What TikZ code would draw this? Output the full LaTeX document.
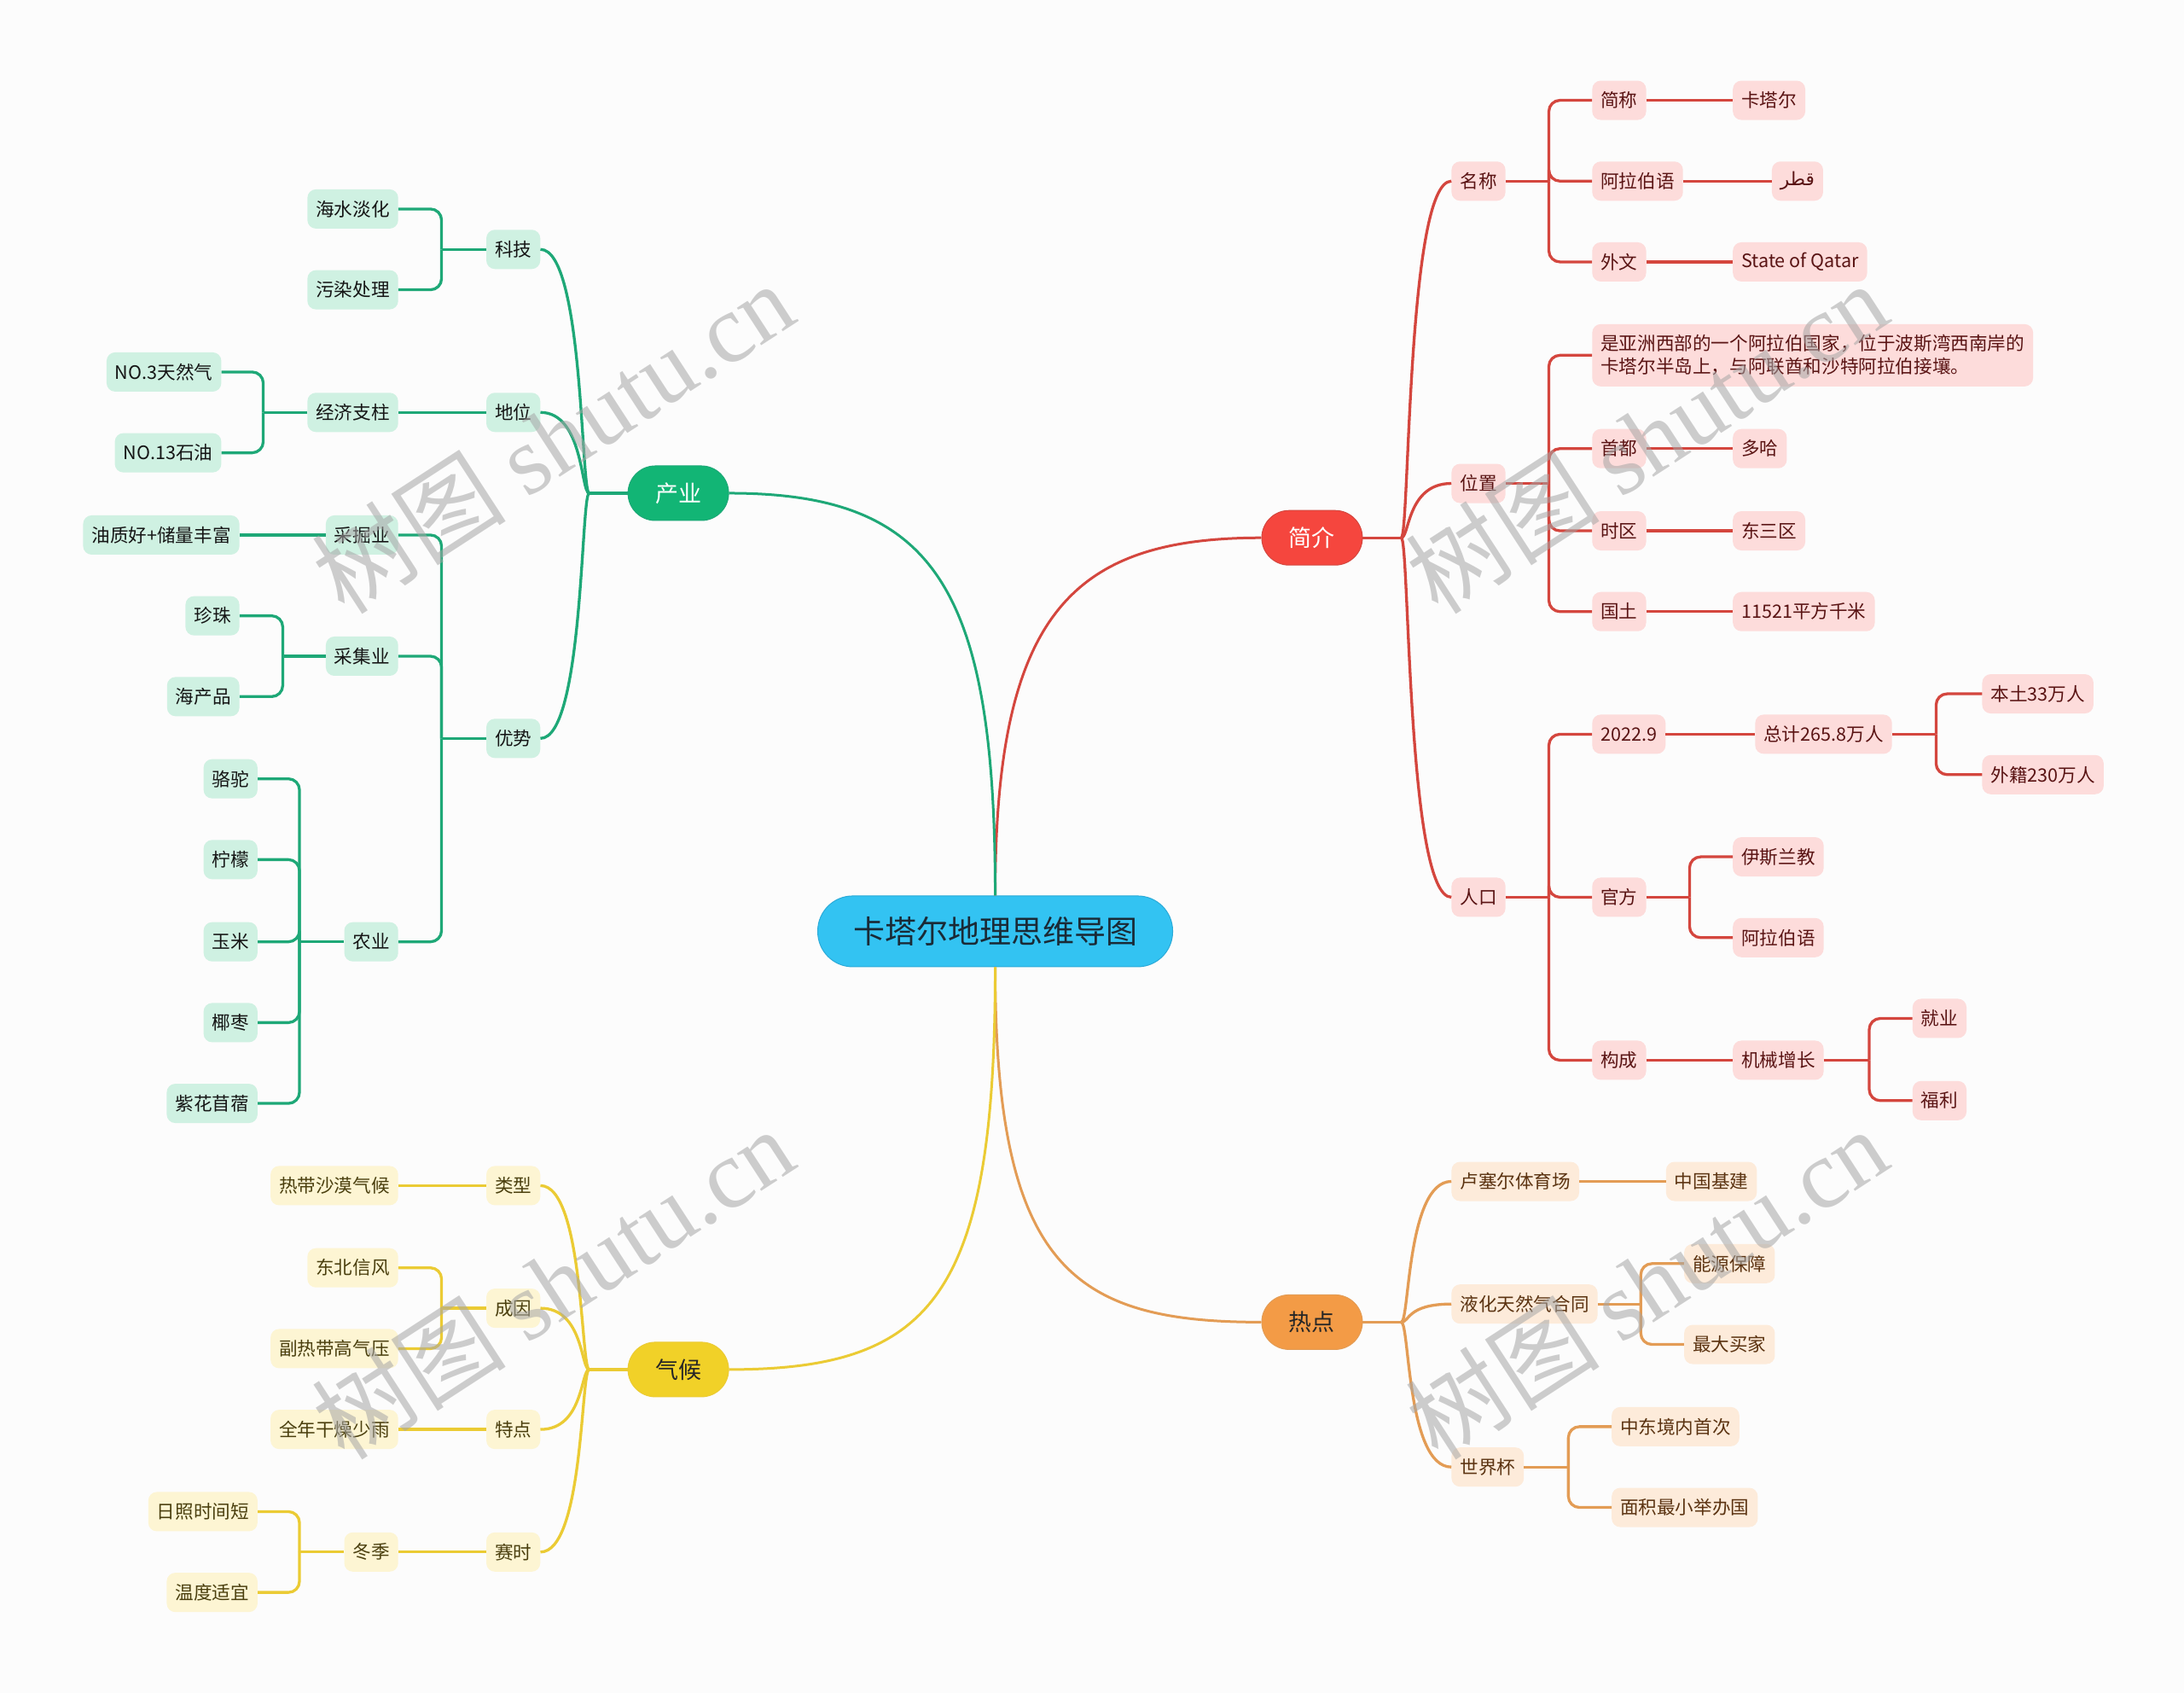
\documentclass[tikz,border=0pt]{standalone}
\usepackage{fontspec}
\setmainfont{Noto Sans CJK SC}
\newfontfamily\arabicfont[Script=Arabic]{DejaVu Sans}
\newfontfamily\wmserif{Liberation Serif}
\TeXXeTstate=1
\definecolor{bg}{HTML}{FCFCFC}
\definecolor{cfill}{HTML}{33C3F2}
\definecolor{cdraw}{HTML}{2AAAD8}
\definecolor{ctext}{HTML}{1A2A36}
\definecolor{rmain}{HTML}{F5463E}
\definecolor{rline}{HTML}{D4463E}
\definecolor{rfill}{HTML}{FDDCDB}
\definecolor{rtext}{HTML}{5A1414}
\definecolor{gmain}{HTML}{12B575}
\definecolor{gline}{HTML}{1EA877}
\definecolor{gfill}{HTML}{CFF1E2}
\definecolor{gtext}{HTML}{151515}
\definecolor{omain}{HTML}{F39B46}
\definecolor{oline}{HTML}{E39C55}
\definecolor{ofill}{HTML}{FDEBDA}
\definecolor{otext}{HTML}{5B3311}
\definecolor{ymain}{HTML}{F1D128}
\definecolor{yline}{HTML}{EBCB34}
\definecolor{yfill}{HTML}{FDF5D3}
\definecolor{ytext}{HTML}{4A3F0E}
\tikzset{
  base/.style={rounded corners=10pt, minimum height=46pt, inner xsep=10pt, inner ysep=0pt,
    font=\fontsize{21.6}{26}\selectfont},
  rbox/.style={base, fill=rfill, text=rtext},
  gbox/.style={base, fill=gfill, text=gtext},
  obox/.style={base, fill=ofill, text=otext},
  ybox/.style={base, fill=yfill, text=ytext},
  mainbox/.style={rounded corners=32pt, minimum height=64pt, minimum width=118pt, inner sep=0pt,
    font=\fontsize{27}{32}\selectfont, line width=1pt},
  rl/.style={draw=rline, line width=3.3pt},
  gl/.style={draw=gline, line width=3.3pt},
  ol/.style={draw=oline, line width=3.3pt},
  yl/.style={draw=yline, line width=3.3pt},
  rc/.style={rounded corners=13pt},
  wm/.style={text=gray!70, opacity=0.55, rotate=33, font=\fontsize{114}{120}\selectfont}
}
\begin{document}
\begin{tikzpicture}[x=1.6327pt, y=-1.6327pt]
\useasboundingbox (0,0) rectangle (1568,1215);
\fill[bg] (0,0) rectangle (1568,1215);

% ---------- main nodes ----------
\node[mainbox, minimum width=416pt, minimum height=83pt, rounded corners=41pt, fill=cfill, draw=cdraw, text=ctext,
      font=\fontsize{37}{42}\selectfont] (root) at (714.5,668.5) {卡塔尔地理思维导图};
\node[mainbox, fill=rmain, draw=rline, text=white] (jj) at (942,386) {简介};
\node[mainbox, fill=gmain, draw=gline, text=white] (cy) at (487,354) {产业};
\node[mainbox, fill=omain, draw=oline, text=black!85] (rd) at (942,949) {热点};
\node[mainbox, fill=ymain, draw=yline, text=black!85] (qh) at (487,983) {气候};

% ---------- red branch ----------
\node[rbox, anchor=west] (mc) at (1042,130) {名称};
\node[rbox, anchor=west] (wz) at (1042,347) {位置};
\node[rbox, anchor=west] (rk) at (1042,644) {人口};

\node[rbox, anchor=west] (jc) at (1143,72) {简称};
\node[rbox, anchor=west] (alb) at (1143,130) {阿拉伯语};
\node[rbox, anchor=west] (ww) at (1143,188) {外文};
\node[rbox, anchor=west] (ktr) at (1244,72) {卡塔尔};
\node[rbox, anchor=west] (ar) at (1272,130) {\arabicfont\beginR قطر\endR};
\node[rbox, anchor=west] (soq) at (1244,188) {State of Qatar};

\node[rbox, anchor=west, minimum height=73pt, align=left,
      font=\fontsize{21.6}{27}\selectfont] (desc) at (1143,255)
  {是亚洲西部的一个阿拉伯国家，位于波斯湾西南岸的\\卡塔尔半岛上，与阿联酋和沙特阿拉伯接壤。};
\node[rbox, anchor=west] (sd) at (1143,322) {首都};
\node[rbox, anchor=west] (sq) at (1143,381) {时区};
\node[rbox, anchor=west] (gt) at (1143,439) {国土};
\node[rbox, anchor=west] (dh) at (1244,322) {多哈};
\node[rbox, anchor=west] (dsq) at (1244,381) {东三区};
\node[rbox, anchor=west] (mj) at (1244,439) {11521平方千米};

\node[rbox, anchor=west] (y22) at (1143,527) {2022.9};
\node[rbox, anchor=west] (gf) at (1143,644) {官方};
\node[rbox, anchor=west] (gc) at (1143,761) {构成};
\node[rbox, anchor=west] (zj) at (1260,527) {总计265.8万人};
\node[rbox, anchor=west] (bt) at (1423,498) {本土33万人};
\node[rbox, anchor=west] (wj) at (1423,556) {外籍230万人};
\node[rbox, anchor=west] (ysl) at (1244,615) {伊斯兰教};
\node[rbox, anchor=west] (alb2) at (1244,673) {阿拉伯语};
\node[rbox, anchor=west] (jx) at (1244,761) {机械增长};
\node[rbox, anchor=west] (jy) at (1373,731) {就业};
\node[rbox, anchor=west] (fl) at (1373,790) {福利};

% ---------- orange branch ----------
\node[obox, anchor=west] (lse) at (1042,848) {卢塞尔体育场};
\node[obox, anchor=west] (yh) at (1042,936) {液化天然气合同};
\node[obox, anchor=west] (sjb) at (1042,1053) {世界杯};
\node[obox, anchor=west] (zgjj) at (1196,848) {中国基建};
\node[obox, anchor=west] (nybz) at (1209,907) {能源保障};
\node[obox, anchor=west] (zdmj) at (1209,965) {最大买家};
\node[obox, anchor=west] (zdjn) at (1157,1024) {中东境内首次};
\node[obox, anchor=west] (mjzx) at (1157,1082) {面积最小举办国};

% ---------- green branch ----------
\node[gbox, anchor=east] (kj) at (388,179) {科技};
\node[gbox, anchor=east] (dw) at (388,296) {地位};
\node[gbox, anchor=east] (ys) at (388,530) {优势};
\node[gbox, anchor=east] (hsdh) at (286,150) {海水淡化};
\node[gbox, anchor=east] (wrcl) at (286,208) {污染处理};
\node[gbox, anchor=east] (jjzz) at (286,296) {经济支柱};
\node[gbox, anchor=east] (no3) at (159,267) {NO.3天然气};
\node[gbox, anchor=east] (no13) at (159,325) {NO.13石油};
\node[gbox, anchor=east] (cjy) at (286,384) {采掘业};
\node[gbox, anchor=east] (cjy2) at (286,471) {采集业};
\node[gbox, anchor=east] (ny) at (286,676) {农业};
\node[gbox, anchor=east] (yz) at (172,384) {油质好+储量丰富};
\node[gbox, anchor=east] (zz) at (172,442) {珍珠};
\node[gbox, anchor=east] (hcp) at (172,500) {海产品};
\node[gbox, anchor=east] (lt) at (185,559) {骆驼};
\node[gbox, anchor=east] (nm) at (185,617) {柠檬};
\node[gbox, anchor=east] (ym) at (185,676) {玉米};
\node[gbox, anchor=east] (yzao) at (185,734) {椰枣};
\node[gbox, anchor=east] (zhmx) at (185,792) {紫花苜蓿};

% ---------- yellow branch ----------
\node[ybox, anchor=east] (lx) at (388,851) {类型};
\node[ybox, anchor=east] (cyin) at (388,939) {成因};
\node[ybox, anchor=east] (td) at (388,1026) {特点};
\node[ybox, anchor=east] (ss) at (388,1114) {赛时};
\node[ybox, anchor=east] (rdsm) at (286,851) {热带沙漠气候};
\node[ybox, anchor=east] (dbxf) at (286,910) {东北信风};
\node[ybox, anchor=east] (frd) at (286,968) {副热带高气压};
\node[ybox, anchor=east] (qngz) at (286,1026) {全年干燥少雨};
\node[ybox, anchor=east] (dj) at (286,1114) {冬季};
\node[ybox, anchor=east] (rz) at (185,1085) {日照时间短};
\node[ybox, anchor=east] (wd) at (185,1143) {温度适宜};

% ---------- connectors ----------
% main curves
\draw[rl, line width=3pt] (root.north) .. controls (714.5,440) and (770,386) .. (jj.west);
\draw[gl, line width=3pt] (root.north) .. controls (714.5,420) and (670,354) .. (cy.east);
\draw[ol, line width=3pt] (root.south) .. controls (714.5,910) and (770,949) .. (rd.west);
\draw[yl, line width=3pt] (root.south) .. controls (714.5,930) and (670,983) .. (qh.east);

% red level 1 -> 2
\coordinate (jjs) at (1006,386);
\draw[rl] (jj.east) -- (jjs);
\draw[rl] (jjs) .. controls (1012,386) and (1010,130) .. (mc.west);
\draw[rl] (jjs) .. controls (1012,386) and (1010,347) .. (wz.west);
\draw[rl] (jjs) .. controls (1012,386) and (1010,644) .. (rk.west);

% red level 2 -> 3
\coordinate (mcs) at (1112,130);
\draw[rl] (mc.east) -- (mcs);
\draw[rl,rc] (mcs) |- (jc.west);
\draw[rl,rc] (mcs) |- (alb.west);
\draw[rl,rc] (mcs) |- (ww.west);
\draw[rl] (jc.east) -- (ktr.west);
\draw[rl] (alb.east) -- (ar.west);
\draw[rl] (ww.east) -- (soq.west);

\coordinate (wzs) at (1112,347);
\draw[rl] (wz.east) -- (wzs);
\draw[rl,rc] (wzs) |- (desc.west);
\draw[rl,rc] (wzs) |- (sd.west);
\draw[rl,rc] (wzs) |- (sq.west);
\draw[rl,rc] (wzs) |- (gt.west);
\draw[rl] (sd.east) -- (dh.west);
\draw[rl] (sq.east) -- (dsq.west);
\draw[rl] (gt.east) -- (mj.west);

\coordinate (rks) at (1112,644);
\draw[rl] (rk.east) -- (rks);
\draw[rl,rc] (rks) |- (y22.west);
\draw[rl,rc] (rks) |- (gf.west);
\draw[rl,rc] (rks) |- (gc.west);
\draw[rl] (y22.east) -- (zj.west);
\coordinate (zjs) at (1390,527);
\draw[rl] (zj.east) -- (zjs);
\draw[rl,rc] (zjs) |- (bt.west);
\draw[rl,rc] (zjs) |- (wj.west);
\coordinate (gfs) at (1213,644);
\draw[rl] (gf.east) -- (gfs);
\draw[rl,rc] (gfs) |- (ysl.west);
\draw[rl,rc] (gfs) |- (alb2.west);
\draw[rl] (gc.east) -- (jx.west);
\coordinate (jxs) at (1342,761);
\draw[rl] (jx.east) -- (jxs);
\draw[rl,rc] (jxs) |- (jy.west);
\draw[rl,rc] (jxs) |- (fl.west);

% orange
\coordinate (rds) at (1006,949);
\draw[ol] (rd.east) -- (rds);
\draw[ol] (rds) .. controls (1012,949) and (1010,848) .. (lse.west);
\draw[ol] (rds) .. controls (1012,949) and (1010,936) .. (yh.west);
\draw[ol] (rds) .. controls (1012,949) and (1010,1053) .. (sjb.west);
\draw[ol] (lse.east) -- (zgjj.west);
\coordinate (yhs) at (1178,936);
\draw[ol] (yh.east) -- (yhs);
\draw[ol,rc] (yhs) |- (nybz.west);
\draw[ol,rc] (yhs) |- (zdmj.west);
\coordinate (sjbs) at (1126,1053);
\draw[ol] (sjb.east) -- (sjbs);
\draw[ol,rc] (sjbs) |- (zdjn.west);
\draw[ol,rc] (sjbs) |- (mjzx.west);

% green
\coordinate (cys) at (423,354);
\draw[gl] (cy.west) -- (cys);
\draw[gl] (cys) .. controls (417,354) and (419,179) .. (kj.east);
\draw[gl] (cys) .. controls (417,354) and (419,296) .. (dw.east);
\draw[gl] (cys) .. controls (417,354) and (419,530) .. (ys.east);
\coordinate (kjs) at (317,179);
\draw[gl] (kj.west) -- (kjs);
\draw[gl,rc] (kjs) |- (hsdh.east);
\draw[gl,rc] (kjs) |- (wrcl.east);
\draw[gl] (dw.west) -- (jjzz.east);
\coordinate (jjzzs) at (189,296);
\draw[gl] (jjzz.west) -- (jjzzs);
\draw[gl,rc] (jjzzs) |- (no3.east);
\draw[gl,rc] (jjzzs) |- (no13.east);
\coordinate (yss) at (317,530);
\draw[gl] (ys.west) -- (yss);
\draw[gl,rc] (yss) |- (cjy.east);
\draw[gl,rc] (yss) |- (cjy2.east);
\draw[gl,rc] (yss) |- (ny.east);
\draw[gl] (cjy.west) -- (yz.east);
\coordinate (cjy2s) at (203,471);
\draw[gl] (cjy2.west) -- (cjy2s);
\draw[gl,rc] (cjy2s) |- (zz.east);
\draw[gl,rc] (cjy2s) |- (hcp.east);
\coordinate (nys) at (215,676);
\draw[gl] (ny.west) -- (nys);
\draw[gl,rc] (nys) |- (lt.east);
\draw[gl,rc] (nys) |- (nm.east);
\draw[gl,rc] (nys) |- (ym.east);
\draw[gl,rc] (nys) |- (yzao.east);
\draw[gl,rc] (nys) |- (zhmx.east);

% yellow
\coordinate (qhs) at (423,983);
\draw[yl] (qh.west) -- (qhs);
\draw[yl] (qhs) .. controls (417,983) and (419,851) .. (lx.east);
\draw[yl] (qhs) .. controls (417,983) and (419,939) .. (cyin.east);
\draw[yl] (qhs) .. controls (417,983) and (419,1026) .. (td.east);
\draw[yl] (qhs) .. controls (417,983) and (419,1114) .. (ss.east);
\draw[yl] (lx.west) -- (rdsm.east);
\coordinate (cyins) at (317,939);
\draw[yl] (cyin.west) -- (cyins);
\draw[yl,rc] (cyins) |- (dbxf.east);
\draw[yl,rc] (cyins) |- (frd.east);
\draw[yl] (td.west) -- (qngz.east);
\draw[yl] (ss.west) -- (dj.east);
\coordinate (djs) at (215,1114);
\draw[yl] (dj.west) -- (djs);
\draw[yl,rc] (djs) |- (rz.east);
\draw[yl,rc] (djs) |- (wd.east);

% ---------- watermarks ----------
\node[wm] (wm1) at (397,314) {树图 {\wmserif shutu.cn}};
\node[wm] (wm2) at (397,921) {树图 {\wmserif shutu.cn}};
\node[wm] (wm3) at (1182,314) {树图 {\wmserif shutu.cn}};
\node[wm] (wm4) at (1182,921) {树图 {\wmserif shutu.cn}};
\end{tikzpicture}
\end{document}
